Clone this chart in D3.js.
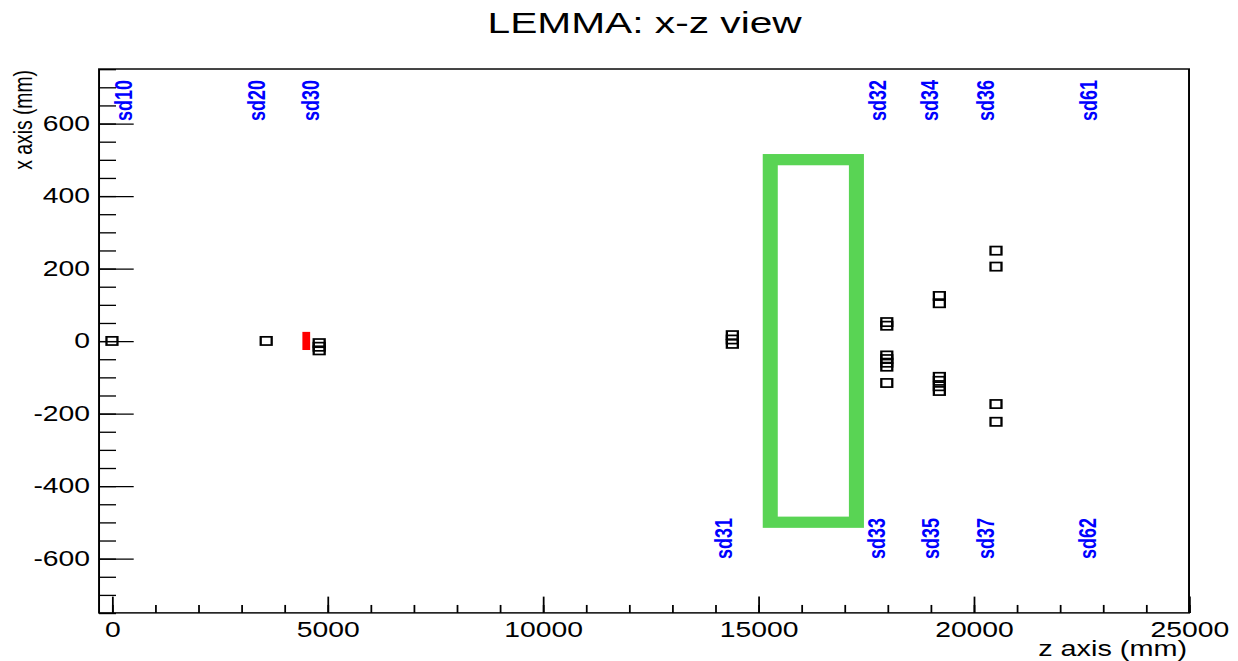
<!DOCTYPE html>
<html>
<head>
<meta charset="utf-8">
<script src="https://cdn.jsdelivr.net/npm/d3@7"></script>
<style>
html,body{margin:0;padding:0;background:#fff;}
svg{display:block;}
text{font-family:"Liberation Sans",Arial,Helvetica,sans-serif;}
</style>
</head>
<body>
<svg id="chart" width="1238" height="661" viewBox="0 0 700 500" preserveAspectRatio="none"></svg>
<script>
// ---- data (z in mm along beam, x in mm transverse) ----
const titleText = "LEMMA: x-z view";
const zTitle = "z axis (mm)";
const xTitle = "x axis (mm)";
const zMajorTicks = [0, 5000, 10000, 15000, 20000, 25000];
const xMajorTicks = [-600, -400, -200, 0, 200, 400, 600];

// detector hits (open squares)
const hitZ = [0, 3580, 4810, 4810, 4810, 14400, 14400, 14400,
  17985, 17985, 17985, 17985, 17985, 17985, 17985,
  19205, 19205, 19205, 19205, 19205, 19205,
  20520, 20520, 20520, 20520];
const hitX = [0, 0, -6, -16, -26, 16, 4, -8,
  52, 42, -40, -50, -60, -71, -116,
  124, 104, -99, -110, -125, -138,
  249, 205, -174, -223];

// target (red) and magnet (green)
const targetZ = [4420, 4600];
const targetX = [-25, 25];
const magnetZ = [15280, 17280];
const magnetX = [-500, 500];

// detector labels
const labelNames = ["sd10", "sd20", "sd30", "sd32", "sd34", "sd36", "sd61",
                    "sd31", "sd33", "sd35", "sd37", "sd62"];
const labelZ = [280, 3370, 4620, 17780, 18990, 20290, 22660,
                14210, 17760, 19010, 20270, 22640];
const labelX = [663, 663, 663, 663, 663, 663, 663,
                -545, -545, -545, -545, -545, -545, -545];

// ---- layout (native 700x500 canvas, stretched to 1238x661) ----
const L = 56, R = 672.3, T = 52.2, B = 463.6;
const svg = d3.select("#chart");
const fmt = d => String(d);

const zScale = d3.scaleLinear().domain([-300, 25000]).range([L, R]);
const xScale = d3.scaleLinear().domain([-750, 750]).range([B, T]);

// title
svg.append("text").attr("x", 364.5).attr("y", 25.3)
  .attr("text-anchor", "middle").attr("font-size", 23).attr("fill", "#000")
  .text(titleText);

// green magnet
svg.append("rect")
  .attr("x", zScale(magnetZ[0])).attr("y", xScale(magnetX[1]))
  .attr("width", zScale(magnetZ[1]) - zScale(magnetZ[0]))
  .attr("height", xScale(magnetX[0]) - xScale(magnetX[1]))
  .attr("fill", "none").attr("stroke", "#59D454").attr("stroke-width", 8.5);

// red target
svg.append("rect")
  .attr("x", zScale(targetZ[0])).attr("y", xScale(targetX[1]))
  .attr("width", zScale(targetZ[1]) - zScale(targetZ[0]))
  .attr("height", xScale(targetX[0]) - xScale(targetX[1]))
  .attr("fill", "#ff0000");

// hits
const sq = 6.2;
svg.append("g").selectAll("rect").data(hitZ.map((z, i) => ({z, x: hitX[i]})))
  .join("rect")
  .attr("x", d => zScale(d.z) - sq / 2).attr("y", d => xScale(d.x) - sq / 2)
  .attr("width", sq).attr("height", sq)
  .attr("fill", "none").attr("stroke", "#000").attr("stroke-width", 1.3);

// labels
svg.append("g").selectAll("text").data(labelNames.map((n, i) => ({n, z: labelZ[i], x: labelX[i]})))
  .join("text")
  .attr("transform", d => `translate(${zScale(d.z) + 4.7},${xScale(d.x)}) rotate(-90)`)
  .attr("text-anchor", "middle").attr("font-size", 13.6).attr("font-weight", "bold")
  .attr("fill", "#0000ff")
  .text(d => d.n);

// axes
const gx = svg.append("g").attr("transform", `translate(0,${B})`);
gx.call(d3.axisBottom(zScale).tickValues(zScale.ticks(25)).tickSizeInner(-6).tickSizeOuter(0).tickFormat(""));
gx.call(g => g.select(".domain").remove());
const gx2 = svg.append("g").attr("transform", `translate(0,${B})`);
gx2.call(d3.axisBottom(zScale).tickValues(zMajorTicks).tickSizeInner(-12.3).tickSizeOuter(0).tickPadding(6.6).tickFormat(fmt));
gx2.call(g => g.select(".domain").remove());

const gy = svg.append("g").attr("transform", `translate(${L},0)`);
gy.call(d3.axisLeft(xScale).tickValues(xScale.ticks(30)).tickSizeInner(-9.6).tickSizeOuter(0).tickFormat(""));
gy.call(g => g.select(".domain").remove());
const gy2 = svg.append("g").attr("transform", `translate(${L},0)`);
gy2.call(d3.axisLeft(xScale).tickValues(xMajorTicks).tickSizeInner(-19.6).tickSizeOuter(0).tickPadding(5.1).tickFormat(fmt));
gy2.call(g => g.select(".domain").remove());

svg.selectAll(".tick line").attr("stroke", "#000").attr("stroke-width", 1);
svg.selectAll(".tick text").attr("font-size", 16).attr("fill", "#000")
  .attr("font-family", "'Liberation Sans',Arial,Helvetica,sans-serif");

// frame
svg.append("rect").attr("x", L).attr("y", T).attr("width", R - L).attr("height", B - T)
  .attr("fill", "none").attr("stroke", "#000").attr("stroke-width", 1.1);

// axis titles
svg.append("text").attr("x", 671.2).attr("y", 496).attr("text-anchor", "end")
  .attr("font-size", 16.3).attr("fill", "#000").text(zTitle);
svg.append("text").attr("transform", "translate(18.1,53) rotate(-90)")
  .attr("text-anchor", "end").attr("font-size", 14.6).attr("fill", "#000").text(xTitle);
</script>
</body>
</html>
